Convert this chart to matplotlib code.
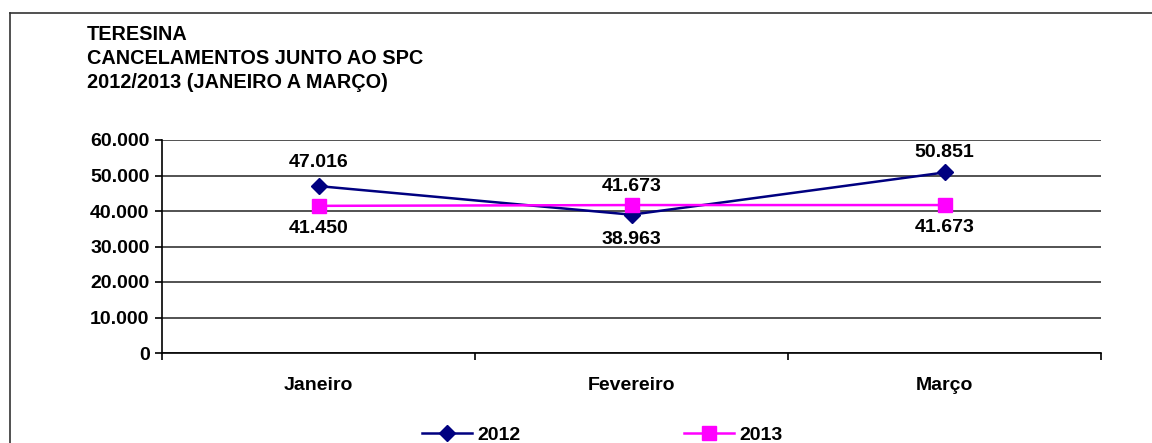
import matplotlib
matplotlib.use("Agg")
import matplotlib.pyplot as plt
from matplotlib.lines import Line2D
from matplotlib.ticker import FuncFormatter, FixedLocator

plt.rcParams['font.family'] = ['Liberation Sans', 'DejaVu Sans']
plt.rcParams['font.weight'] = 'bold'

meses = ["Janeiro", "Fevereiro", "Março"]
vals_2012 = [47016, 38963, 50851]
vals_2013 = [41450, 41673, 41673]
# label offsets in points (+ above, - below)
off_2012 = [17.3, -18, 14.4]
off_2013 = [-16, 13.7, -16.3]
title_lines = ["TERESINA", "CANCELAMENTOS JUNTO AO SPC", "2012/2013 (JANEIRO A MARÇO)"]

W, H = 1152, 443
FS = 14
fig = plt.figure(figsize=(W / 100, H / 100), dpi=100)

# frame lines (top and left)
fig.add_artist(Line2D([10 / W, 1], [1 - 13 / H, 1 - 13 / H], color="#333333", lw=1.2))
fig.add_artist(Line2D([10 / W, 10 / W], [0, 1 - 13 / H], color="#333333", lw=1.2))

for i, t in enumerate(title_lines):
    fig.text(87 / W, 1 - (34 + 24.3 * i) / H, t, fontsize=14.3, fontweight="bold", va="center", ha="left")

ax = fig.add_axes([162 / W, 1 - 353 / H, (1101 - 162) / W, (353 - 140) / H])
x = list(range(len(meses)))

ax.plot(x, vals_2012, color="#000080", lw=1.8, marker="D", markersize=8, label="2012", zorder=3)
ax.plot(x, vals_2013, color="#FF00FF", lw=1.8, marker="s", markersize=10, label="2013", zorder=3)

for xi, v, o in zip(x, vals_2012, off_2012):
    ax.annotate(f"{v:,}".replace(",", "."), (xi, v), xytext=(0, o), textcoords="offset points",
                ha="center", va="center", fontsize=FS, fontweight="bold")
for xi, v, o in zip(x, vals_2013, off_2013):
    ax.annotate(f"{v:,}".replace(",", "."), (xi, v), xytext=(0, o), textcoords="offset points",
                ha="center", va="center", fontsize=FS, fontweight="bold")

ax.set_ylim(0, 60000)
ax.set_xlim(-0.5, 2.5)
ax.set_yticks(range(0, 60001, 10000))
ax.yaxis.set_major_formatter(FuncFormatter(lambda v, _: f"{int(v):,}".replace(",", ".")))
ax.yaxis.grid(True, color="#444444", lw=1.3)
ax.set_axisbelow(True)

ax.set_xticks(x)
ax.set_xticklabels(meses)
ax.xaxis.set_minor_locator(FixedLocator([-0.5, 0.5, 1.5, 2.5]))
ax.tick_params(axis="x", which="major", length=0, pad=17, labelsize=FS)
ax.tick_params(axis="x", which="minor", length=5, width=1.2, direction="out")
ax.tick_params(axis="y", length=5, width=1.2, labelsize=FS, pad=4)
for lab in ax.get_xticklabels() + ax.get_yticklabels():
    lab.set_fontweight("bold")

for s in ["top", "right"]:
    ax.spines[s].set_visible(False)
for s in ["left", "bottom"]:
    ax.spines[s].set_linewidth(1.2)

leg = fig.legend(loc="center", bbox_to_anchor=(602 / W, 1 - 435 / H), ncol=2, frameon=False,
                 fontsize=FS, handlelength=2.6, columnspacing=8.4, handletextpad=0.25)
for t in leg.get_texts():
    t.set_fontweight("bold")

fig.savefig("out.png", dpi=100)
